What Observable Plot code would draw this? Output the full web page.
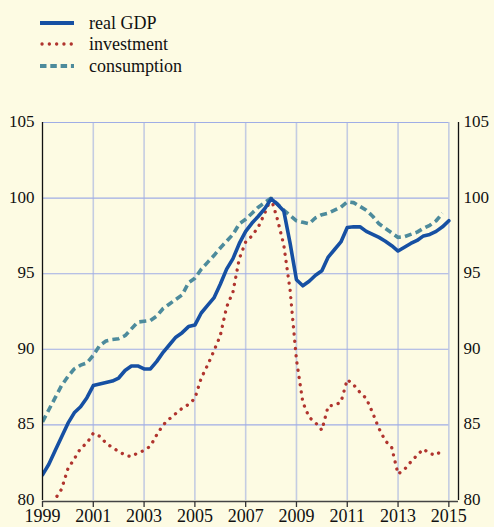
<!DOCTYPE html>
<html>
<head>
<meta charset="utf-8">
<script src="https://cdn.jsdelivr.net/npm/d3@7"></script>
<script src="https://cdn.jsdelivr.net/npm/@observablehq/plot@0.6"></script>
<style>
  html, body { margin: 0; padding: 0; background: #fdfbe3; }
  body { width: 494px; height: 527px; overflow: hidden; font-family: "Liberation Serif", "Times New Roman", serif; }
  #legend { position: relative; height: 95px; }
  .row { position: absolute; left: 0; height: 22px; display: flex; align-items: center; }
  .row svg { margin-left: 40px; }
  .row span { margin-left: 15px; font-size: 18px; color: #111; line-height: 22px; }
</style>
</head>
<body>
<div id="legend"></div>
<div id="chart"></div>
<script>
// ---- data (quarterly, starting 1999Q1) ----
const startYear = 1999;
const seriesNames = ["real GDP", "investment", "consumption"];
const gdp = [
  81.7, 82.4, 83.3, 84.2,
  85.1, 85.8, 86.2, 86.8,
  87.6, 87.7, 87.8, 87.9,
  88.1, 88.6, 88.9, 88.9,
  88.7, 88.7, 89.2, 89.8,
  90.3, 90.8, 91.1, 91.5,
  91.6, 92.4, 92.9, 93.4,
  94.3, 95.3, 96.0, 97.0,
  97.8, 98.35, 98.8, 99.3,
  99.95, 99.6, 99.15, 97.0,
  94.6, 94.2, 94.5, 94.9,
  95.2, 96.1, 96.6, 97.1,
  98.05, 98.1, 98.1, 97.8,
  97.6, 97.4, 97.15, 96.85,
  96.5, 96.75, 97.0, 97.2,
  97.5, 97.6, 97.8, 98.1,
  98.5
];
const investment = [
  79.2, 79.6, 80.1, 80.75,
  82.1, 82.75, 83.45, 83.8,
  84.45, 84.25, 83.8, 83.5,
  83.25, 83.0, 82.9, 83.15,
  83.3, 83.6, 84.35, 85.0,
  85.4, 85.75, 86.1, 86.35,
  86.75, 88.1, 88.95, 89.9,
  90.9, 92.8, 93.8, 96.0,
  97.1, 97.5, 98.1, 99.0,
  100.0, 98.6, 96.9, 93.9,
  89.3, 86.5, 85.5, 85.15,
  84.65, 86.25, 86.3, 86.5,
  88.0, 87.65, 87.15, 86.75,
  85.8, 84.75, 83.95, 83.5,
  81.75, 82.05, 82.55, 83.0,
  83.4, 83.1, 83.0, 83.35
];
const consumption = [
  85.2, 86.0, 86.8, 87.6,
  88.2, 88.7, 88.95, 89.1,
  89.6, 90.25, 90.55, 90.65,
  90.7, 90.9, 91.35, 91.8,
  91.85, 91.9, 92.2, 92.7,
  93.0, 93.3, 93.6, 94.4,
  94.7, 95.3, 95.75, 96.2,
  96.7, 97.15, 97.6, 98.3,
  98.6, 99.0, 99.4, 99.7,
  100.0, 99.6, 99.2, 98.85,
  98.5, 98.4, 98.3, 98.7,
  98.9, 99.0, 99.2, 99.4,
  99.75, 99.7, 99.45, 99.2,
  98.8, 98.3, 98.0, 97.7,
  97.4, 97.45, 97.6, 97.75,
  98.0, 98.2, 98.5, 99.0
];
const xTicks = [1999, 2001, 2003, 2005, 2007, 2009, 2011, 2013, 2015];
const xGrid = [2001, 2003, 2005, 2007, 2009, 2011, 2013, 2015];
const yTicks = [80, 85, 90, 95, 100, 105];
const yGrid = [85, 90, 95, 100, 105];
const xDomain = [1999, 2015.38];

// ---- styles ----
const colors = { gdp: "#1650a3", inv: "#b0342e", cons: "#4d8b9c" };
const consDash = "7 4.2";
const invDash = "0.1 7.2";

const toRows = (arr) => arr.map((v, i) => ({ t: startYear + i / 4, v }));

// ---- legend ----
const legend = document.getElementById("legend");
const legendItems = [
  { name: seriesNames[0], color: colors.gdp, dash: null, width: 4, cap: "butt", x1: 0 },
  { name: seriesNames[1], color: colors.inv, dash: invDash, width: 3.3, cap: "round", x1: 2 },
  { name: seriesNames[2], color: colors.cons, dash: "6.5 3.8", width: 3.8, cap: "butt", x1: 0 }
];
const rowCenters = [22.5, 44, 65.5];
legendItems.forEach((it, i) => {
  const row = document.createElement("div");
  row.className = "row";
  row.style.top = (rowCenters[i] - 11) + "px";
  const ns = "http://www.w3.org/2000/svg";
  const s = document.createElementNS(ns, "svg");
  s.setAttribute("width", 34); s.setAttribute("height", 10);
  const l = document.createElementNS(ns, "line");
  l.setAttribute("x1", it.x1); l.setAttribute("x2", 34);
  l.setAttribute("y1", 5); l.setAttribute("y2", 5);
  l.setAttribute("stroke", it.color); l.setAttribute("stroke-width", it.width);
  l.setAttribute("stroke-linecap", it.cap);
  if (it.dash) l.setAttribute("stroke-dasharray", it.dash);
  s.appendChild(l);
  const t = document.createElement("span");
  t.textContent = it.name;
  row.appendChild(s); row.appendChild(t);
  legend.appendChild(row);
});

// ---- chart ----
const chart = Plot.plot({
  width: 494,
  height: 432,
  marginLeft: 42,
  marginRight: 36,
  marginTop: 27,
  marginBottom: 27,
  style: { background: "transparent", fontFamily: "'Liberation Serif', 'Times New Roman', serif", fontSize: "18px", color: "#111", overflow: "visible" },
  x: { domain: xDomain, label: null },
  y: { domain: [80, 105], label: null },
  marks: [
    Plot.ruleX(xGrid, { y1: 80, y2: 105, stroke: "#c4cce2", strokeWidth: 1.6 }),
    Plot.ruleY(yGrid, { x1: 1999, x2: 2015, stroke: "#9fade6", strokeWidth: 1.1 }),
    Plot.lineY(toRows(investment), { x: "t", y: "v", stroke: colors.inv, strokeWidth: 3.3, strokeDasharray: invDash, strokeLinecap: "round", clip: true }),
    Plot.lineY(toRows(consumption), { x: "t", y: "v", stroke: colors.cons, strokeWidth: 3.6, strokeDasharray: consDash, strokeLinecap: "butt", strokeLinejoin: "miter", clip: true }),
    Plot.lineY(toRows(gdp), { x: "t", y: "v", stroke: colors.gdp, strokeWidth: 3.6, strokeLinejoin: "round", clip: true }),
    Plot.ruleX([xDomain[0], xDomain[1]], { y1: 80, y2: 105, stroke: "#111", strokeWidth: 1.3 }),
    Plot.ruleY([80], { x1: xDomain[0], x2: xDomain[1], stroke: "#444", strokeWidth: 1.3, dy: 1 }),
    Plot.axisX({ ticks: xTicks, tickFormat: "d", tickSize: 6, tickPadding: 2, stroke: "#333", strokeWidth: 1.3, fill: "#111", fontSize: 18, label: null, dy: 1 }),
    Plot.axisY({ anchor: "left", ticks: yTicks, tickSize: 0, tickPadding: 8, fill: "#111", fontSize: 17, label: null, dy: -1 }),
    Plot.axisY({ anchor: "right", ticks: yTicks, tickSize: 0, tickPadding: 5, fill: "#111", fontSize: 17, label: null, dy: -1 })
  ]
});
document.getElementById("chart").appendChild(chart);
</script>
</body>
</html>
